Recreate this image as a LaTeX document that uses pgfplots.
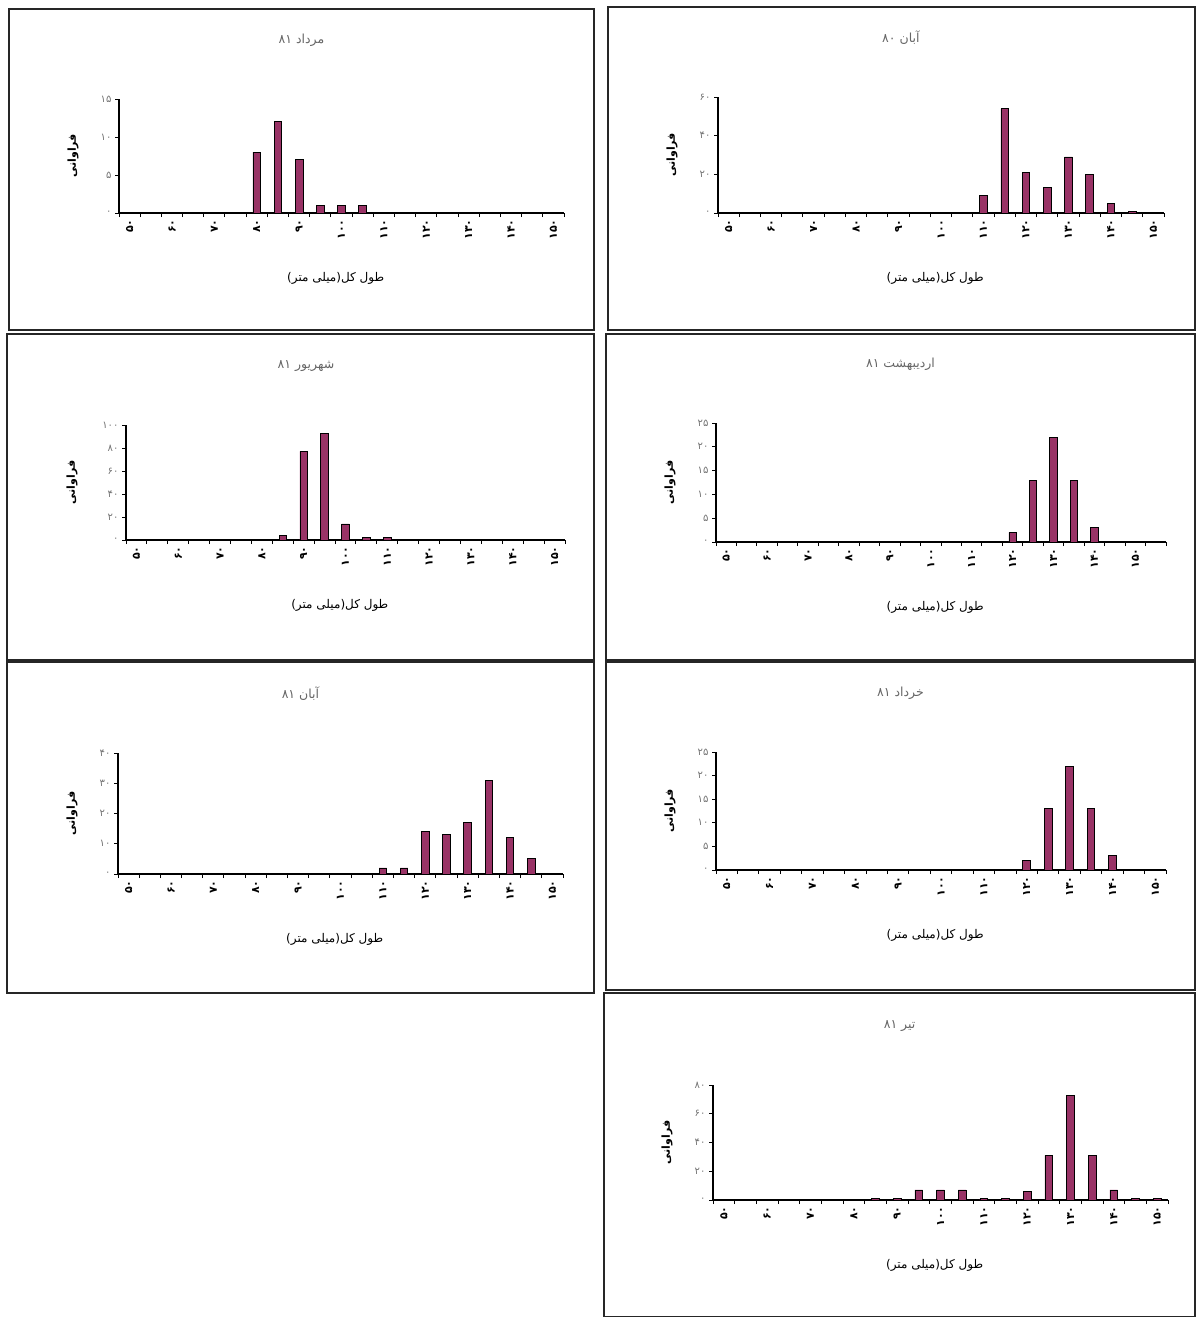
\documentclass[border=0pt]{standalone}
\usepackage{pgfplots}
\pgfplotsset{compat=1.18}
\usepackage{fontspec}
\setmainfont{Liberation Sans}
\newfontfamily\fa[Script=Arabic]{DejaVu Sans}
\TeXXeTstate=1
\definecolor{barc}{RGB}{153,51,102}

% one histogram panel: length classes 50..150 mm, step 5
\pgfplotsset{
  hist/.style={
    scale only axis, anchor=south west,
    axis x line=bottom, axis y line=left,
    axis line style={-, line width=1.1pt},
    tick align=outside, major tick length=4pt,
    every tick/.style={black, line width=1pt},
    xmin=47.5, xmax=152.5, ymin=0,
    xtick={47.5,52.5,...,157.5}, xticklabels={},
    extra x ticks={50,60,...,150},
    extra x tick labels={۵۰,۶۰,۷۰,۸۰,۹۰,۱۰۰,۱۱۰,۱۲۰,۱۳۰,۱۴۰,۱۵۰},
    extra x tick style={major tick length=0pt,
      tick label style={rotate=90, anchor=east, xshift=-3pt}},
    x tick label style={font=\fa\bfseries\fontsize{11}{11}\selectfont},
    y tick label style={font=\fa\fontsize{10}{10}\selectfont, text=black!55},
    ybar, bar width=1.8,
    title style={at={(rel axis cs:0.41,1)}, yshift=53pt, anchor=center,
      font=\fa\fontsize{12.5}{14}\selectfont, text=black!60},
    xlabel style={at={(rel axis cs:0.487,0)}, yshift=-65pt, anchor=center,
      font=\fa\fontsize{12}{14}\selectfont},
    ylabel style={at={(rel axis cs:0,0.5)}, yshift=46pt, anchor=center,
      font=\fa\bfseries\fontsize{11}{13}\selectfont},
    xlabel={\beginR طول کل(میلی متر)\endR},
    ylabel={\beginR فراوانی\endR},
  },
  bars/.style={fill=barc, draw=black, line width=0.8pt},
}

\begin{document}
\begin{tikzpicture}
\path[use as bounding box] (0pt,0pt) rectangle (1197pt,-1317pt);

% panel frames
\begin{scope}[line width=1.4pt, black!85]
\draw (9pt,-9pt) rectangle (594pt,-330pt);
\draw (608pt,-7pt) rectangle (1195pt,-330pt);
\draw (7pt,-334pt) rectangle (594pt,-660pt);
\draw (606pt,-334pt) rectangle (1195pt,-660pt);
\draw (7pt,-662pt) rectangle (594pt,-993pt);
\draw (606pt,-662pt) rectangle (1195pt,-990pt);
\draw (604pt,-993pt) rectangle (1195pt,-1317pt);
\end{scope}

% Mordad 81
\begin{axis}[hist, at={(119pt,-213pt)}, width=445pt, height=114pt,
  ymax=15, ytick={0,5,10,15}, yticklabels={۰,۵,۱۰,۱۵},
  title={\beginR مرداد ۸۱\endR}]
\addplot[bars] coordinates {(80,8) (85,12) (90,7) (95,1) (100,1) (105,1)};
\end{axis}

% Aban 80
\begin{axis}[hist, at={(718pt,-213pt)}, width=446pt, height=116pt,
  ymax=60, ytick={0,20,40,60}, yticklabels={۰,۲۰,۴۰,۶۰},
  title={\beginR آبان ۸۰\endR}]
\addplot[bars] coordinates {(110,9) (115,54) (120,21) (125,13) (130,29) (135,20) (140,5) (145,1)};
\end{axis}

% Shahrivar 81
\begin{axis}[hist, at={(126pt,-540pt)}, width=439pt, height=115pt,
  ymax=100, ytick={0,20,40,60,80,100}, yticklabels={۰,۲۰,۴۰,۶۰,۸۰,۱۰۰},
  ylabel style={yshift=8pt},
  title={\beginR شهریور ۸۱\endR}]
\addplot[bars] coordinates {(85,4) (90,77) (95,93) (100,14) (105,2) (110,2)};
\end{axis}

% Ordibehesht 81
\begin{axis}[hist, at={(716pt,-542pt)}, width=450pt, height=119pt, xmax=157.5,
  ymax=25, ytick={0,5,10,15,20,25}, yticklabels={۰,۵,۱۰,۱۵,۲۰,۲۵},
  title={\beginR اردیبهشت ۸۱\endR}]
\addplot[bars] coordinates {(120,2) (125,13) (130,22) (135,13) (140,3)};
\end{axis}

% Aban 81
\begin{axis}[hist, at={(118pt,-874pt)}, width=445pt, height=121pt,
  ymax=40, ytick={0,10,20,30,40}, yticklabels={۰,۱۰,۲۰,۳۰,۴۰},
  title={\beginR آبان ۸۱\endR}]
\addplot[bars] coordinates {(110,2) (115,2) (120,14) (125,13) (130,17) (135,31) (140,12) (145,5)};
\end{axis}

% Khordad 81
\begin{axis}[hist, at={(716pt,-870pt)}, width=450pt, height=118pt,
  ymax=25, ytick={0,5,10,15,20,25}, yticklabels={۰,۵,۱۰,۱۵,۲۰,۲۵},
  title={\beginR خرداد ۸۱\endR}]
\addplot[bars] coordinates {(120,2) (125,13) (130,22) (135,13) (140,3)};
\end{axis}

% Tir 81
\begin{axis}[hist, at={(713pt,-1200pt)}, width=455pt, height=115pt,
  ymax=80, ytick={0,20,40,60,80}, yticklabels={۰,۲۰,۴۰,۶۰,۸۰},
  title={\beginR تیر ۸۱\endR}]
\addplot[bars] coordinates {(85,1) (90,1) (95,7) (100,7) (105,7) (110,1) (115,1) (120,6) (125,31) (130,73) (135,31) (140,7) (145,1) (150,1)};
\end{axis}
\end{tikzpicture}
\end{document}
